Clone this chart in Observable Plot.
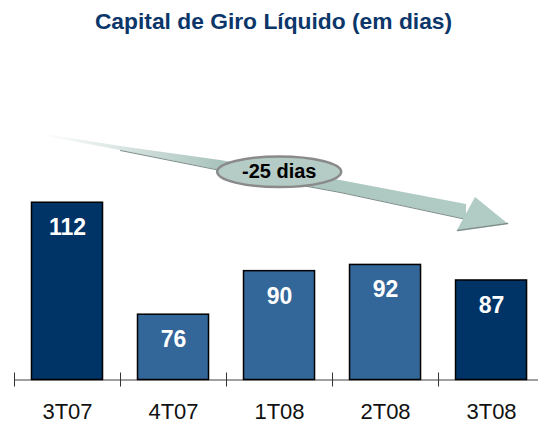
<!DOCTYPE html>
<html>
<head>
<meta charset="utf-8">
<script src="https://cdn.jsdelivr.net/npm/d3@7"></script>
<script src="https://cdn.jsdelivr.net/npm/@observablehq/plot@0.6"></script>
<style>
  html, body { margin: 0; padding: 0; background: #ffffff; }
  #wrap { width: 538px; height: 424px; overflow: hidden; font-family: "Liberation Sans", Arial, sans-serif; }
  #title { box-sizing: border-box; height: 40px; padding-top: 10px; padding-left: 9px; text-align: center;
           font-size: 22.8px; line-height: 23px; font-weight: bold; color: #0b3669; white-space: nowrap; }
  svg { display: block; }
</style>
</head>
<body>
<div id="wrap">
  <div id="title">Capital de Giro Líquido (em dias)</div>
  <div id="chart"></div>
</div>
<script>
// ---- data ----
const categories = ["3T07", "4T07", "1T08", "2T08", "3T08"];
const values = [112, 76, 90, 92, 87];
const darkCategories = ["3T07", "3T08"];
const changeLabel = "-25 dias";
const changeAnchor = {x: 1.997, y: 121.95};

// arrow annotation (in data units: x = category index, y = value units)
const shaftX =      [-0.226, 0.5,    1.443,  2.575,  3.764];
const shaftTop =    [134.1,  130.08, 125.58, 119.15, 111.43];
const shaftBottom = [133.46, 128.79, 122.36, 115.29, 106.61];
const headX =      [3.679,  3.849,  4.151];
const headTop =    [103.07, 113.68, 105.32];
const headBottom = [103.07, 103.87, 105.32];

const yBase = 55;
const bars = categories.map((c, i) => ({i, cat: c, value: values[i]}));
const shaft = shaftX.map((x, k) => ({x, top: shaftTop[k], bottom: shaftBottom[k]}));
const head = headX.map((x, k) => ({x, top: headTop[k], bottom: headBottom[k]}));
const dark = new Set(darkCategories);

// ellipse symbol
const ellipseSymbol = {
  draw(ctx) {
    const rx = 62, ry = 15.3, k = 0.5523;
    ctx.moveTo(rx, 0);
    ctx.bezierCurveTo(rx, ry * k, rx * k, ry, 0, ry);
    ctx.bezierCurveTo(-rx * k, ry, -rx, ry * k, -rx, 0);
    ctx.bezierCurveTo(-rx, -ry * k, -rx * k, -ry, 0, -ry);
    ctx.bezierCurveTo(rx * k, -ry, rx, -ry * k, rx, 0);
    ctx.closePath();
  }
};

function defs() {
  const ns = "http://www.w3.org/2000/svg";
  const d = document.createElementNS(ns, "defs");
  const g = document.createElementNS(ns, "linearGradient");
  g.setAttribute("id", "shaftGrad");
  g.setAttribute("gradientUnits", "userSpaceOnUse");
  g.setAttribute("x1", "43"); g.setAttribute("x2", "466");
  g.setAttribute("y1", "0"); g.setAttribute("y2", "0");
  [["0", "#ffffff"], ["0.15", "#e0eae8"], ["0.42", "#a9c3bd"], ["1", "#b1cbc5"]].forEach(([o, c]) => {
    const s = document.createElementNS(ns, "stop");
    s.setAttribute("offset", o); s.setAttribute("stop-color", c);
    g.appendChild(s);
  });
  d.appendChild(g);
  return d;
}

const plot = Plot.plot({
  width: 538,
  height: 384,
  marginTop: 0,
  marginBottom: 44.5,
  marginLeft: 14,
  marginRight: 0,
  style: {fontFamily: "Liberation Sans, Arial, sans-serif", background: "white", overflow: "visible"},
  x: {type: "linear", domain: [-0.5, 4.443], axis: null},
  y: {domain: [yBase, yBase + 339.5 / 3.11], axis: null},
  color: {type: "identity"},
  marks: [
    defs,
    Plot.areaY(shaft, {x: "x", y1: "bottom", y2: "top", fill: "url(#shaftGrad)"}),
    Plot.line(shaft.slice(1), {x: "x", y: "bottom", stroke: "#7d8e8b", strokeWidth: 1.2}),
    Plot.areaY(head, {x: "x", y1: "bottom", y2: "top", fill: "#b1cbc5"}),
    Plot.line([head[0], head[2]], {x: "x", y: "bottom", stroke: "#7d8e8b", strokeWidth: 1.5}),
    Plot.dot([changeAnchor], {x: "x", y: "y", symbol: ellipseSymbol, fill: "#b4cbc6", stroke: "#8a8a8a", strokeWidth: 2.5}),
    Plot.text([changeAnchor], {x: "x", y: "y", text: () => changeLabel, fontSize: 20, fontWeight: "bold", fill: "#000"}),
    Plot.ruleY([yBase], {stroke: "#808080", strokeWidth: 1.5}),
    Plot.ruleX([-0.5, 0.5, 1.5, 2.5, 3.5], {y1: yBase - 7 / 3.11, y2: yBase + 7 / 3.11, stroke: "#333", strokeWidth: 1}),
    Plot.rect(bars, {
      x1: d => d.i - 0.335, x2: d => d.i + 0.335, y1: yBase, y2: "value",
      fill: d => dark.has(d.cat) ? "#003366" : "#336699",
      stroke: "#000", strokeWidth: 1.5
    }),
    Plot.text(bars, {x: "i", y: "value", text: d => String(d.value), fill: "white", fontWeight: "bold", fontSize: 23, dy: 25}),
    Plot.axisX({ticks: [0, 1, 2, 3, 4], tickFormat: i => categories[i], tickSize: 0, tickPadding: 23, fontSize: 22, color: "#111", anchor: "bottom"})
  ]
});
document.getElementById("chart").appendChild(plot);
</script>
</body>
</html>
